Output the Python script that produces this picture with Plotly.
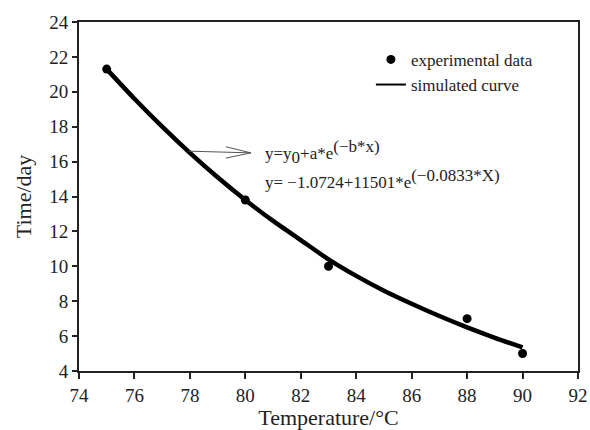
import plotly.graph_objects as go

# Experimental data
temp_exp = [75, 80, 83, 88, 90]
time_exp = [21.3, 13.8, 10.0, 7.0, 5.0]

# Simulated curve
temp_sim = [75, 76, 77, 78, 79, 80, 81, 82, 83, 84, 85, 86, 87, 88, 89, 90]
time_sim = [21.3, 19.6, 18.0, 16.5, 15.1, 13.8, 12.6, 11.5, 10.4, 9.45, 8.6, 7.85, 7.15, 6.5, 5.9, 5.35]

x_ticks = [74, 76, 78, 80, 82, 84, 86, 88, 90, 92]
y_ticks = [4, 6, 8, 10, 12, 14, 16, 18, 20, 22, 24]

serif = "Liberation Serif, Times New Roman, serif"
eq_size = 17

fig = go.Figure()
fig.add_trace(go.Scatter(
    x=temp_exp, y=time_exp, mode="markers", name="experimental data",
    marker=dict(color="black", size=9)))
fig.add_trace(go.Scatter(
    x=temp_sim, y=time_sim, mode="lines", name="simulated curve",
    showlegend=False,
    line=dict(color="black", width=4.5, shape="spline", smoothing=0.6)))
# legend entry for the curve (thinner line as in the reference legend)
fig.add_trace(go.Scatter(
    x=[None], y=[None], mode="lines", name="simulated curve",
    line=dict(color="black", width=2)))

# arrow pointing from curve to equation
arrow_start = (77.9, 16.6)
arrow_end = (80.2, 16.5)
fig.add_annotation(
    x=arrow_end[0], y=arrow_end[1], ax=arrow_start[0], ay=arrow_start[1],
    xref="x", yref="y", axref="x", ayref="y", text="",
    showarrow=True, arrowhead=0, arrowwidth=1, arrowcolor="#555")
fig.add_shape(type="line", xref="x", yref="y",
              x0=arrow_end[0], y0=arrow_end[1], x1=79.3, y1=16.85,
              line=dict(color="#555", width=1))
fig.add_shape(type="line", xref="x", yref="y",
              x0=arrow_end[0], y0=arrow_end[1], x1=79.3, y1=16.2,
              line=dict(color="#555", width=1))

sub_style = f"<span style='font-size:{eq_size}px'>"
fig.add_annotation(
    x=80.62, y=16.55, xref="x", yref="y", xanchor="left",
    yanchor="middle", showarrow=False,
    text=f"y=y<sub>{sub_style}0</span></sub>+a*e<sup>{sub_style}(−b*x)</span></sup>",
    font=dict(family=serif, size=eq_size, color="#222"))
fig.add_annotation(
    x=80.62, y=15.0, xref="x", yref="y", xanchor="left",
    yanchor="middle", showarrow=False,
    text=f"y= −1.0724+11501*e<sup>{sub_style}(−0.0833*X)</span></sup>",
    font=dict(family=serif, size=eq_size, color="#222"))

fig.update_layout(
    width=590, height=430,
    margin=dict(l=79, r=12, t=22, b=59),
    paper_bgcolor="white", plot_bgcolor="white",
    font=dict(family=serif, color="#222"),
    showlegend=True,
    legend=dict(x=0.585, y=0.943, xanchor="left", yanchor="top",
                bgcolor="rgba(0,0,0,0)", font=dict(family=serif, size=17),
                tracegroupgap=0, itemwidth=30),
    xaxis=dict(range=[74, 92], tickvals=x_ticks, showgrid=False, zeroline=False,
               showline=True, linecolor="#222", linewidth=2, mirror=True,
               ticks="outside", ticklen=6, tickwidth=1.5, tickcolor="#222",
               tickfont=dict(size=19), automargin=False,
               title=dict(text="Temperature/°C", font=dict(size=22), standoff=4)),
    yaxis=dict(range=[4, 24], tickvals=y_ticks, showgrid=False, zeroline=False,
               showline=True, linecolor="#222", linewidth=2, mirror=True,
               ticks="outside", ticklen=5, tickwidth=1.5, tickcolor="#222",
               tickfont=dict(size=19), automargin=False,
               title=dict(text="Time/day", font=dict(size=22), standoff=12)),
)

fig.write_html("out.html", config={"displayModeBar": False},
               post_script="document.body.style.margin='0';document.body.style.overflow='hidden';")
